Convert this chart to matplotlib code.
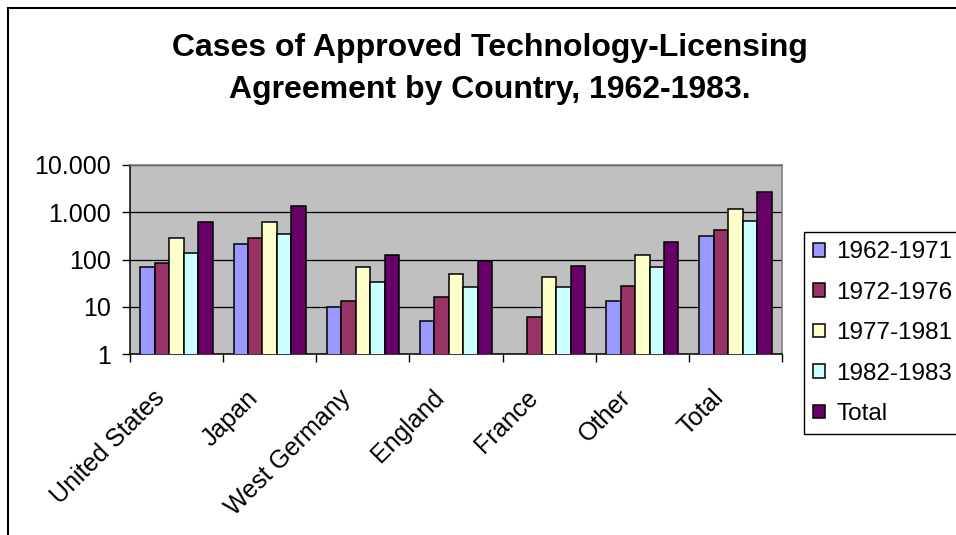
import numpy as np
import matplotlib.pyplot as plt
from matplotlib.patches import Rectangle
from matplotlib.ticker import FixedLocator, FuncFormatter
from matplotlib.transforms import ScaledTranslation

plt.rcParams['font.family'] = ['Liberation Sans', 'DejaVu Sans']

# =========================
# DATA
# =========================

countries = ["United States", "Japan", "West Germany", "England", "France", "Other", "Total"]
series_names = ["1962-1971", "1972-1976", "1977-1981", "1982-1983", "Total"]

v_1962_1971 = [71, 214, 10, 5, np.nan, 13, 316]
v_1972_1976 = [86, 287, 13, 16, 6, 28, 423]
v_1977_1981 = [287, 615, 71, 49, 42, 126, 1157]
v_1982_1983 = [136, 343, 34, 26, 26, 71, 667]
v_total = [615, 1383, 126, 95, 72, 240, 2690]

series_values = [v_1962_1971, v_1972_1976, v_1977_1981, v_1982_1983, v_total]
colors = ["#9999FF", "#993366", "#FFFFCC", "#CCFFFF", "#660066"]

# =========================
# PLOTTING
# =========================

fig = plt.figure(figsize=(9.56, 5.35), dpi=100)
ax = fig.add_axes([130 / 956, 1 - 354 / 535, (782 - 130) / 956, (354 - 165) / 535])

# outer chart frame (cut off at right and bottom like the original)
fig.patches.append(Rectangle((8 / 956, -0.2), 1.2, 1 - 8 / 535 + 0.2,
                             transform=fig.transFigure, fill=False,
                             edgecolor="black", linewidth=1.5))

x = np.arange(len(countries))
bar_w = 0.155
for i, (name, vals, col) in enumerate(zip(series_names, series_values, colors)):
    offset = (i - 2) * bar_w
    ax.bar(x + offset, vals, width=bar_w, color=col, edgecolor="black",
           linewidth=1.1, label=name, zorder=3)

ax.set_yscale("log")
ax.set_ylim(1, 10000)
ax.set_xlim(-0.5, len(countries) - 0.5)
ax.set_facecolor("#C0C0C0")

ax.yaxis.set_major_locator(FixedLocator([1, 10, 100, 1000, 10000]))
ax.yaxis.set_minor_locator(FixedLocator([]))
ax.yaxis.set_major_formatter(FuncFormatter(lambda v, p: f"{int(round(v)):,}".replace(",", ".")))
ax.grid(axis="y", color="black", linewidth=0.9, zorder=1)

ax.set_xticks(np.arange(-0.5, len(countries), 1.0))
ax.set_xticklabels([])
ax.set_xticks(x, minor=True)
ax.set_xticklabels(countries, minor=True, rotation=45, ha="right", va="top",
                   rotation_mode="anchor", fontsize=18)
ax.tick_params(axis="x", which="minor", length=0, pad=12)
ax.tick_params(axis="x", which="major", length=6, width=1, direction="out")
ax.tick_params(axis="y", length=6, width=1, direction="out", labelsize=18, pad=8)

# nudge the rotated country labels like the original
shift = ScaledTranslation(-24 / 100, -15 / 100, fig.dpi_scale_trans)
for lab in ax.get_xticklabels(minor=True):
    lab.set_transform(lab.get_transform() + shift)

for side in ["top", "right"]:
    ax.spines[side].set_color("#808080")
    ax.spines[side].set_linewidth(1.2)
for side in ["left", "bottom"]:
    ax.spines[side].set_color("black")
    ax.spines[side].set_linewidth(1.1)

fig.text(490 / 956, 1 - 69 / 535,
         "Cases of Approved Technology-Licensing\nAgreement by Country, 1962-1983.",
         ha="center", va="center", fontsize=23, fontweight="bold", linespacing=1.55)

leg = ax.legend(loc="upper left", bbox_to_anchor=(804 / 956, 1 - 232 / 535),
                bbox_transform=fig.transFigure, fontsize=17.5, frameon=True,
                fancybox=False, edgecolor="black", framealpha=1,
                handlelength=0.5, handleheight=0.5, handletextpad=0.45,
                labelspacing=0.76, borderpad=0.38, borderaxespad=0)
leg.get_frame().set_linewidth(1.0)

fig.savefig("out.png", dpi=100)
